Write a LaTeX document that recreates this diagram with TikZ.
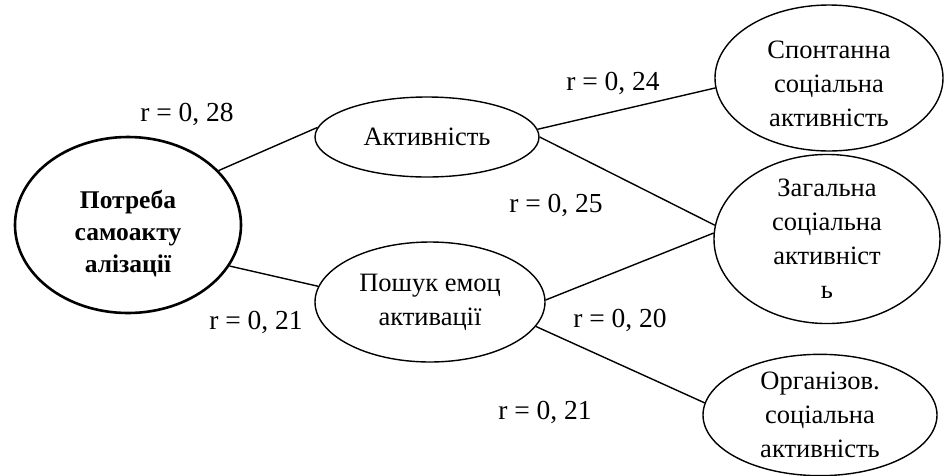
\documentclass[tikz,border=0pt]{standalone}
\usepackage{fontspec}
\setmainfont{Liberation Serif}
\usetikzlibrary{shapes.geometric}
\begin{document}
\begin{tikzpicture}[x=1pt,y=-1pt,
  ell/.style={ellipse,draw,line width=1.4pt,inner sep=0pt,align=center,font=\fontsize{26.5}{34}\selectfont},
  lbl/.style={font=\fontsize{27.5}{34}\selectfont,inner sep=0pt},
  conn/.style={line width=1.4pt}]
\useasboundingbox (0,0) rectangle (946,475);
\node[ell,line width=2.6pt,minimum width=226pt,minimum height=176pt,font=\bfseries\fontsize{25.5}{32}\selectfont] (main) at (128,225) {\raisebox{-15pt}[0pt][0pt]{\begin{tabular}{@{}c@{}}Потреба\\самоакту\\алізації\end{tabular}}};
\node[ell,minimum width=224pt,minimum height=80pt] (akt) at (427,137) {Активність};
\node[ell,minimum width=230pt,minimum height=120pt] (posh) at (430,302) {Пошук емоц\\активації};
\node[ell,minimum width=228pt,minimum height=146pt] (spon) at (829,78) {\raisebox{-14pt}[0pt][0pt]{\begin{tabular}{@{}c@{}}Спонтанна\\соціальна\\активність\end{tabular}}};
\node[ell,minimum width=226pt,minimum height=152pt] (zag) at (827,239) {Загальна\\соціальна\\активніст\\ь};
\node[ell,minimum width=234pt,minimum height=120pt] (org) at (820,415) {Організов.\\соціальна\\активність};
\draw[conn] (main.31) -- (akt.175);
\draw[conn] (main.-22) -- (posh.172);
\draw[conn] (akt.4) -- (spon.185);
\draw[conn] (akt.0) -- (zag.173);
\draw[conn] (posh.1) -- (zag.177);
\draw[conn] (posh.-13) -- (org.174);
\node[lbl] (l1) at (187,114) {r = 0, 28};
\node[lbl] (l2) at (613,83) {r = 0, 24};
\node[lbl] (l3) at (556,205) {r = 0, 25};
\node[lbl] (l4) at (256,322) {r = 0, 21};
\node[lbl] (l5) at (620,320) {r = 0, 20};
\node[lbl] (l6) at (545,412) {r = 0, 21};
\end{tikzpicture}
\end{document}
